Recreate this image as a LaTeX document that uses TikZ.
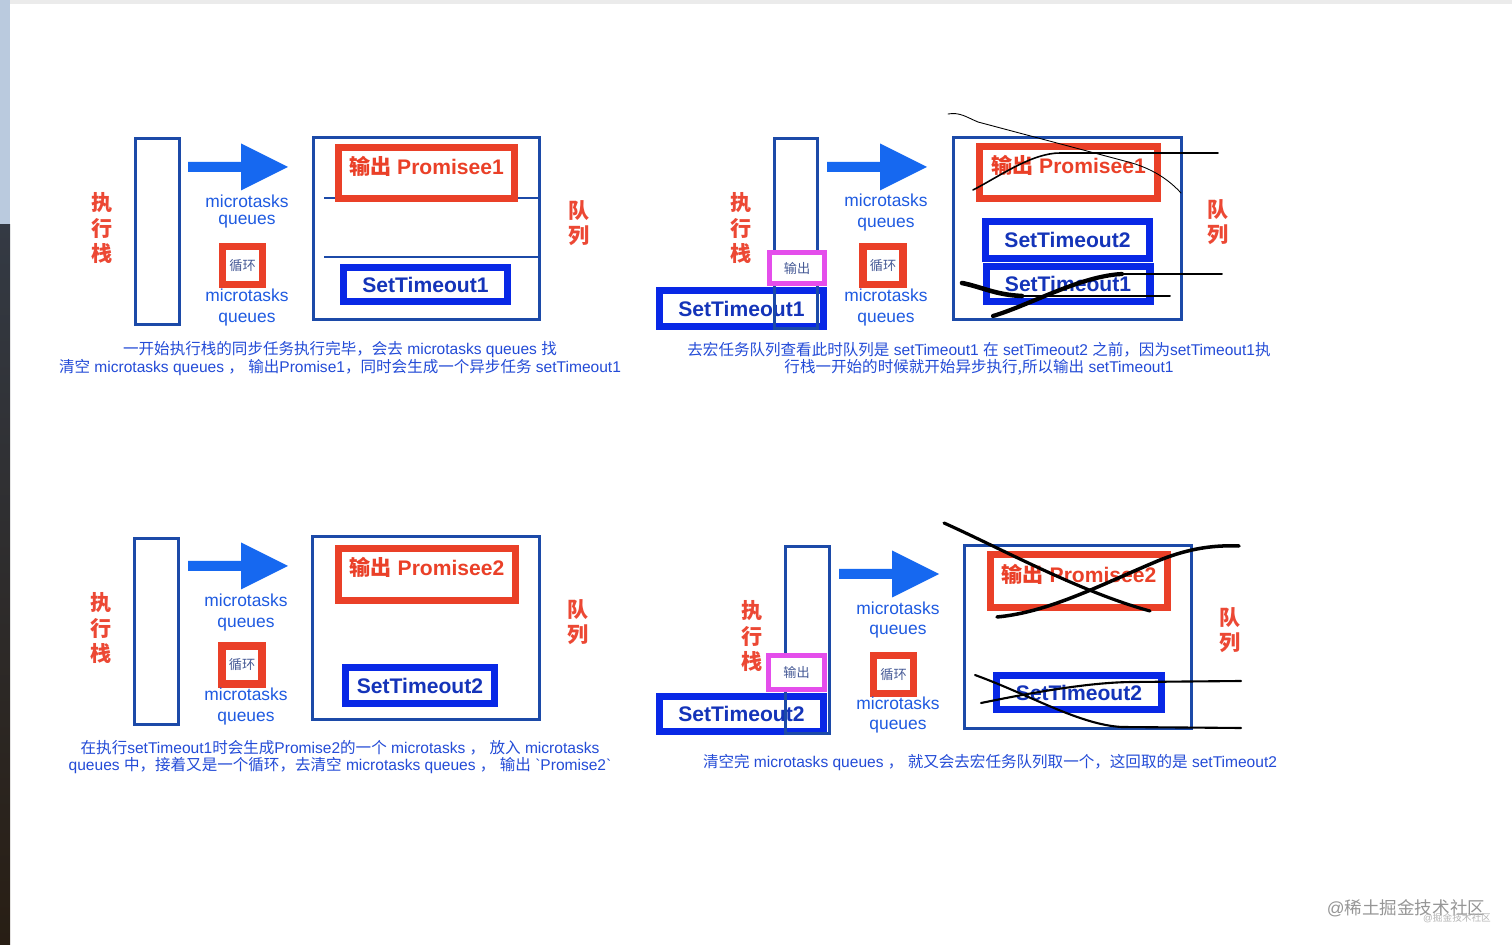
\documentclass[tikz,border=0pt]{standalone}
\usepackage{fontspec}
\setmainfont{Liberation Sans}
\newfontfamily\cjk{Noto Sans CJK SC}
\newcommand\zh[1]{{\cjk #1}}
\usepackage{tikz}
\usetikzlibrary{positioning}
\usepackage{xcolor}
\definecolor{stackblue}{RGB}{28,74,168}
\definecolor{arrowblue}{RGB}{22,104,240}
\definecolor{boxred}{RGB}{234,64,40}
\definecolor{boxblue}{RGB}{8,40,230}
\definecolor{boxtext}{RGB}{20,52,185}
\definecolor{labred}{RGB}{236,72,52}
\definecolor{mqblue}{RGB}{30,90,225}
\definecolor{loopslate}{RGB}{70,90,150}
\definecolor{outpink}{RGB}{228,78,235}
\definecolor{capblue}{RGB}{35,75,215}
\definecolor{wmgrey}{RGB}{150,150,150}
\definecolor{edgelight}{RGB}{186,202,222}
\definecolor{edgedark}{RGB}{52,58,68}
\definecolor{edgebrown}{RGB}{40,30,20}

\begin{document}
\begin{tikzpicture}[x=0.02cm, y=-0.02cm,
  stackbox/.style={draw=stackblue, line width=1.7pt, inner sep=0pt},
  queuebox/.style={draw=stackblue, line width=1.7pt, inner sep=0pt},
  sepline/.style={draw=stackblue, line width=0.7pt},
  redbox/.style={draw=boxred, line width=4pt, fill=white, inner sep=0pt},
  redtext/.style={text=boxred, font=\bfseries\fontsize{12}{14}\selectfont},
  bluebox/.style={draw=boxblue, line width=4pt, fill=white, inner sep=0pt, text=boxtext, font=\bfseries\fontsize{12}{14}\selectfont},
  loopbox/.style={draw=boxred, line width=4pt, fill=white, inner sep=0pt, minimum width=0.8cm, minimum height=0.76cm, text=loopslate, font=\fontsize{7.5}{8}\selectfont},
  pinkbox/.style={draw=outpink, line width=2.8pt, fill=white, inner sep=0pt, text=loopslate, font=\fontsize{7.5}{8}\selectfont},
  mqtext/.style={text=mqblue, align=center, inner sep=0pt, font=\fontsize{9.9}{11.8}\selectfont},
  redlabel/.style={text=labred, align=center, inner sep=0pt, font=\cjk\bfseries\fontsize{12}{14.3}\selectfont},
  captext/.style={text=capblue, align=center, inner sep=0pt, font=\fontsize{8.85}{9.7}\selectfont},
  scribble/.style={black, line cap=round, line join=round},
  bigarrow/.pic={\fill[arrowblue] (0,-5) -- (53,-5) -- (53,-23.5) -- (100,0) -- (53,23.5) -- (53,5) -- (0,5) -- cycle;}]
\useasboundingbox (0,0) rectangle (1512,945);
\fill[white] (0,0) rectangle (1512,945);
% screen edges
\fill[black!8] (0,0) rectangle (1512,4);
\fill[edgelight] (0,0) rectangle (10,225);
\shade[top color=edgedark, bottom color=edgebrown] (0,225) rectangle (10,945);

% panel 1: top left
\node[stackbox, minimum width=0.88cm, minimum height=3.72cm] (stackA) at (157.5,231.5) {};
\node[redlabel] (execA) at (102,228) {执\\行\\栈};
\pic (arrA) at (188,167) {bigarrow};
\node[mqtext, font=\fontsize{9.9}{9.6}\selectfont] (mqA1) at (247,211.5) {microtasks\\queues};
\node[loopbox] (loopA) at (242.5,265.5) {\zh{循环}};
\node[mqtext] (mqA2) at (247,307.5) {microtasks\\queues};
\node[queuebox, minimum width=4.52cm, minimum height=3.64cm] (queueA) at (426.5,228.5) {};
\draw[sepline] (324,198) -- (539,198);
\draw[sepline] (324,257) -- (539,257);
\node[redbox, minimum width=3.52cm, minimum height=1.02cm] (promA) at (426.5,173) {};
\node[redtext] (promAt) at ([yshift=4pt]promA.center) {\zh{输出} Promisee1};
\node[bluebox, minimum width=3.28cm, minimum height=0.68cm] (toA) at (425.5,284.5) {SetTimeout1};
\node[redlabel] (colA) at (579,223) {队\\列};
\node[captext] (capA) at (340,358.5) {\zh{一开始执行栈的同步任务执行完毕，会去} microtasks queues \zh{找}\\\zh{清空} microtasks queues \zh{，} \zh{输出}Promise1\zh{，同时会生成一个异步任务} setTimeout1};

% panel 2: top right
\node[bluebox, minimum width=3.28cm, minimum height=0.72cm] (outB) at (741.5,308.5) {SetTimeout1};
\node[stackbox, minimum width=0.86cm, minimum height=3.8cm] (stackB) at (796,233.5) {};
\node[pinkbox, minimum width=1.1cm, minimum height=0.62cm] (pinkB) at (797,268) {\zh{输出}};
\node[redlabel] (execB) at (741,228) {执\\行\\栈};
\pic (arrB) at (827,167) {bigarrow};
\node[mqtext] (mqB1) at (886,212.5) {microtasks\\queues};
\node[loopbox] (loopB) at (883,265.5) {\zh{循环}};
\node[mqtext] (mqB2) at (886,307.5) {microtasks\\queues};
\node[queuebox, minimum width=4.56cm, minimum height=3.64cm] (queueB) at (1067.5,228.5) {};
\node[redbox, minimum width=3.56cm, minimum height=1.04cm] (promB) at (1068.5,172.5) {};
\node[redtext] (promBt) at ([yshift=4pt]promB.center) {\zh{输出} Promisee1};
\node[bluebox, minimum width=3.28cm, minimum height=0.74cm] (to2B) at (1067.5,240) {SetTimeout2};
\node[bluebox, minimum width=3.28cm, minimum height=0.7cm] (to1B) at (1068,284) {SetTimeout1};
\node[redlabel] (colB) at (1218,222) {队\\列};
\draw[scribble, line width=0.5pt] (948,114) .. controls (960,112) and (966,117) .. (978,122) -- (1132,163) .. controls (1155,170) and (1170,181) .. (1181,193);
\draw[scribble, line width=0.9pt] (973,190) .. controls (1000,176) and (1032,153) .. (1060,153) -- (1218,153);
\draw[scribble, line width=2.6pt] (962,283) .. controls (982,287) and (996,295) .. (1022,296);
\draw[scribble, line width=1.1pt] (1022,296) -- (1170,296);
\draw[scribble, line width=2.4pt] (993,316) .. controls (1030,305) and (1080,276) .. (1122,274);
\draw[scribble, line width=1.1pt] (1122,274) -- (1222,274);
\node[captext] (capB) at (979,358.5) {\zh{去宏任务队列查看此时队列是} setTimeout1 \zh{在} setTimeout2 \zh{之前，因为}setTimeout1\zh{执}\\\zh{行栈一开始的时候就开始异步执行,所以输出} setTimeout1};

% panel 3: bottom left
\node[stackbox, minimum width=0.88cm, minimum height=3.72cm] (stackC) at (156.5,631.5) {};
\node[redlabel] (execC) at (101,628) {执\\行\\栈};
\pic (arrC) at (188,566) {bigarrow};
\node[mqtext] (mqC1) at (246,612.5) {microtasks\\queues};
\node[loopbox] (loopC) at (242,665) {\zh{循环}};
\node[mqtext] (mqC2) at (246,706.5) {microtasks\\queues};
\node[queuebox, minimum width=4.54cm, minimum height=3.66cm] (queueC) at (426,628) {};
\node[redbox, minimum width=3.54cm, minimum height=1.04cm] (promC) at (427,574.5) {};
\node[redtext] (promCt) at ([yshift=4pt]promC.center) {\zh{输出} Promisee2};
\node[bluebox, minimum width=2.98cm, minimum height=0.72cm] (toC) at (420,685.5) {SetTimeout2};
\node[redlabel] (colC) at (578,622) {队\\列};
\node[captext] (capC) at (340,757.5) {\zh{在执行}setTimeout1\zh{时会生成}Promise2\zh{的一个} microtasks \zh{，} \zh{放入} microtasks\\queues \zh{中，接着又是一个循环，去清空} microtasks queues \zh{，} \zh{输出} \textasciigrave Promise2\textasciigrave};

% panel 4: bottom right
\node[bluebox, minimum width=3.28cm, minimum height=0.7cm] (outD) at (741.5,714) {SetTimeout2};
\node[stackbox, minimum width=0.88cm, minimum height=3.74cm] (stackD) at (807.5,640) {};
\node[pinkbox, minimum width=1.12cm, minimum height=0.68cm] (pinkD) at (796.5,672.5) {\zh{输出}};
\node[redlabel] (execD) at (752,636) {执\\行\\栈};
\pic (arrD) at (839,574) {bigarrow};
\node[mqtext] (mqD1) at (898,620) {microtasks\\queues};
\node[loopbox] (loopD) at (893.5,674.5) {\zh{循环}};
\node[mqtext] (mqD2) at (898,715) {microtasks\\queues};
\node[queuebox, minimum width=4.54cm, minimum height=3.66cm] (queueD) at (1078,637) {};
\node[redbox, minimum width=3.54cm, minimum height=1.06cm] (promD) at (1079,581) {};
\node[redtext] (promDt) at ([yshift=4pt]promD.center) {\zh{输出} Promisee2};
\node[bluebox, minimum width=3.3cm, minimum height=0.68cm] (toD) at (1079,692.5) {SetTimeout2};
\node[redlabel] (colD) at (1230,630) {队\\列};
\draw[scribble, line width=1.8pt] (944,523) .. controls (1000,548) and (1080,592) .. (1150,611);
\draw[scribble, line width=2pt] (997,617) .. controls (1050,612) and (1100,585) .. (1160,560) .. controls (1190,548) and (1215,545) .. (1239,546);
\draw[scribble, line width=1.2pt] (975,675) .. controls (1030,695) and (1080,725) .. (1122,727) -- (1241,728);
\draw[scribble, line width=1.2pt] (981,703) .. controls (1030,693) and (1090,682) .. (1134,682) -- (1241,681);
\node[captext] (capD) at (990,763) {\zh{清空完} microtasks queues \zh{，} \zh{就又会去宏任务队列取一个，这回取的是} setTimeout2};

% watermark
\node[text=wmgrey, inner sep=0pt, font=\fontsize{10}{12}\selectfont] (wm) at (1406,908) {@\zh{稀土掘金技术社区}};
\node[text=wmgrey!70, inner sep=0pt, font=\fontsize{5.5}{6}\selectfont] (wmsmall) at (1457,918) {@\zh{掘金技术社区}};
\end{tikzpicture}
\end{document}
